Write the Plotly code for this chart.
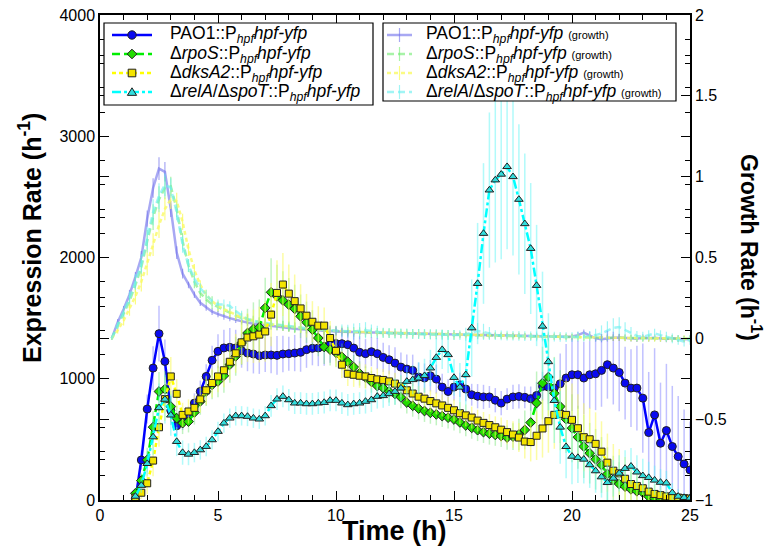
import plotly.graph_objects as go

FONT = "Liberation Sans, Arial, Helvetica, sans-serif"

# ---------------- data ----------------
STEP_H = 0.25          # sampling interval (h)
EXPR_START_H = 1.5     # first expression sample (h)
GROWTH_START_H = 0.5   # first growth sample (h)

strain_labels = [
    "PAO1::P<sub><i>hpf</i></sub><i>hpf-yfp</i>",
    "\u0394<i>rpoS</i>::P<sub><i>hpf</i></sub><i>hpf-yfp</i>",
    "\u0394<i>dksA2</i>::P<sub><i>hpf</i></sub><i>hpf-yfp</i>",
    "\u0394<i>relA</i>/\u0394<i>spoT</i>::P<sub><i>hpf</i></sub><i>hpf-yfp</i>",
]
growth_suffix = ' <span style="font-size:11px">(growth)</span>'

def nums(s):
    return [float(v) for v in s.split()]

# expression rate (h^-1), 1.5 h .. 25 h
expr_pao1 = nums("""
0 330 750 1088 1372 1143 738 612 647 702
799 895 1019 1152 1226 1254 1259 1254 1231 1212
1204 1190 1196 1196 1193 1204 1207 1212 1218 1240
1251 1254 1267 1281 1290 1289 1281 1253 1218 1207
1223 1207 1176 1157 1129 1096 1080 1069 1014 1006
1025 997 931 895 931 950 915 868 856 850
850 823 799 832 850 854 847 836 862 937
931 923 959 1006 1033 1033 1006 1033 1041 1069
1116 1088 1052 964 923 923 840 556 702 468
573 441 358 297 248
""")
expr_rpos = nums("""
55 160 331 601 895 914 771 675 634 647
722 813 895 950 978 1025 1116 1185 1295 1377
1410 1424 1584 1713 1680 1646 1611 1576 1515 1466
1405 1336 1262 1240 1215 1180 1140 1096 1044 1012
975 940 923 895 875 847 804 777 754 734
719 706 692 679 664 640 615 595 576 560
547 537 528 515 523 540 578 639 800 964
1014 880 771 667 592 518 441 386 336 289
215 165 132 110 88 72 61 28 14 10
8 6 5 5 5
""")
expr_dksa2 = nums("""
20 60 138 325 600 832 1019 876 702 730
760 830 905 965 1019 1070 1140 1210 1300 1340
1350 1364 1390 1529 1708 1777 1702 1640 1580 1520
1470 1438 1438 1336 1230 1116 1041 1033 1025 1019
1006 995 990 978 960 937 905 878 852 836
816 797 780 760 740 716 698 680 655 636
618 600 580 560 540 515 482 478 530 590
650 702 710 702 661 592 518 501 463 399
308 242 220 175 132 116 97 69 50 40
30 25 20 15 12
""")
expr_rela = nums("""
30 120 300 520 760 830 700 482 391 377
391 413 441 496 565 634 675 694 694 689
675 667 694 777 832 854 826 799 799 793
793 799 804 821 821 799 785 793 799 813
826 854 860 876 895 923 978 992 1005 1025
1088 1175 1240 1198 1010 930 1033 1419 1785 2198
2556 2639 2686 2749 2666 2479 2278 2074 1769 1433
1140 820 600 440 360 350 336 290 240 190
143 179 220 260 278 230 200 185 163 145
140 60 30 20 15
""")

# expression error bars (half length)
err_pao1 = nums("""
40 80 120 180 230 180 120 80 70 70
80 90 100 120 140 150 160 150 140 150
160 150 140 150 160 150 140 150 160 150
140 150 160 150 140 130 120 120 130 120
120 130 120 120 130 120 120 130 120 120
130 120 110 100 110 100 100 90 100 100
90 100 100 90 100 100 90 100 110 120
140 200 250 280 300 280 300 280 300 300
280 300 320 300 320 350 450 500 550 500
550 500 500 450 400
""")
err_rpos = nums("""
40 60 100 130 160 150 130 100 90 90
100 110 120 120 130 140 150 160 180 200
220 230 250 280 260 240 220 200 180 170
160 150 140 130 120 110 100 100 100 90
90 90 90 90 90 90 90 90 90 90
90 90 90 90 90 90 90 90 90 90
90 90 90 100 110 130 160 200 260 300
320 300 300 280 280 260 260 250 250 230
220 200 180 160 140 120 100 80 60 50
40 30 20 15 10
""")
err_dksa2 = nums("""
30 50 90 130 160 180 160 120 100 100
100 110 120 120 130 140 150 160 180 200
220 230 250 260 270 260 240 220 200 180
170 160 150 140 130 110 100 100 100 100
90 90 90 90 90 90 90 90 90 90
90 90 90 90 90 90 90 90 90 90
90 90 100 100 110 120 140 160 200 240
260 280 300 300 300 280 280 260 260 250
240 220 200 180 160 140 120 100 80 60
50 40 30 20 15
""")
err_rela = nums("""
30 60 100 150 200 200 170 120 100 90
80 80 80 80 80 80 80 80 80 80
80 80 80 90 90 90 90 90 90 90
90 90 90 90 90 90 90 90 90 100
100 100 100 100 110 110 120 120 130 140
150 160 160 150 150 200 300 400 500 580
640 680 700 680 650 620 580 540 500 450
400 350 300 260 230 210 200 190 180 170
160 150 150 150 150 140 140 130 120 110
100 80 60 40 30
""")

# growth rate (h^-1), 0.5 h .. 25 h
growth_pao1 = nums("""
0.0 0.10 0.18 0.27 0.38 0.50 0.74
0.93 1.05 1.03 0.80 0.53 0.40 0.33 0.27
0.22 0.19 0.165 0.15 0.135 0.125 0.115 0.105
0.097 0.09 0.085 0.08 0.075 0.07 0.066 0.062 0.059 0.056 0.053 0.05 0.048 0.046 0.044 0.042
0.04 0.039 0.037 0.036 0.035 0.034 0.033 0.032 0.031 0.03 0.03 0.029 0.028 0.027 0.027 0.026 0.025 0.024 0.024 0.023
0.022 0.022 0.021 0.02 0.02 0.019 0.018 0.018 0.017 0.017 0.016 0.015 0.015 0.014 0.013 0.012 0.012 0.011 0.01 0.012
0.02 0.035 0.02 0.0 -0.005 0.0 0.003 0.005 0.003 0.0 -0.002 0.005 0.0 0.004 0.0 -0.004 0.0 -0.003 -0.005 -0.004
""")
growth_rpos = nums("""
0.0 0.08 0.15 0.23 0.33 0.44 0.60
0.75 0.86 0.93 0.94 0.80 0.60 0.45 0.35
0.28 0.24 0.21 0.195 0.175 0.155 0.14 0.125
0.115 0.105 0.098 0.09 0.085 0.08 0.075 0.07 0.066 0.062 0.058 0.055 0.052 0.05 0.047 0.045
0.043 0.041 0.04 0.038 0.037 0.035 0.034 0.033 0.032 0.031 0.03 0.029 0.028 0.027 0.026 0.025 0.024 0.023 0.022 0.021
0.02 0.02 0.019 0.018 0.018 0.017 0.016 0.016 0.015 0.014 0.014 0.013 0.012 0.012 0.011 0.01 0.01 0.009 0.008 0.008
0.007 0.006 0.006 0.005 0.004 0.004 0.003 0.003 0.002 0.002 0.001 0.001 0.0 0.0 0.0 -0.001 -0.001 -0.002 -0.002 -0.003
""")
growth_dksa2 = nums("""
0.0 0.05 0.11 0.18 0.26 0.35 0.46
0.58 0.70 0.80 0.86 0.85 0.72 0.55 0.42
0.33 0.27 0.23 0.20 0.18 0.16 0.145 0.13
0.12 0.11 0.1 0.093 0.087 0.082 0.077 0.072 0.068 0.064 0.06 0.057 0.054 0.051 0.049 0.047
0.045 0.043 0.041 0.04 0.038 0.037 0.035 0.034 0.033 0.032 0.031 0.03 0.029 0.028 0.027 0.026 0.025 0.024 0.023 0.022
0.021 0.02 0.02 0.019 0.018 0.018 0.017 0.016 0.016 0.015 0.014 0.014 0.013 0.012 0.012 0.011 0.01 0.01 0.009 0.008
0.008 0.007 0.006 0.006 0.005 0.004 0.004 0.003 0.003 0.002 0.002 0.001 0.001 0.0 0.0 0.0 -0.001 -0.001 -0.002 -0.002
""")
growth_rela = nums("""
0.0 0.08 0.16 0.25 0.35 0.46 0.62
0.78 0.88 0.95 0.93 0.78 0.58 0.45 0.37
0.31 0.27 0.23 0.21 0.21 0.20 0.17 0.14
0.12 0.11 0.1 0.095 0.09 0.085 0.08 0.075 0.07 0.066 0.062 0.058 0.055 0.052 0.05 0.048
0.046 0.044 0.042 0.045 0.05 0.045 0.038 0.035 0.033 0.031 0.03 0.029 0.028 0.027 0.026 0.025 0.024 0.023 0.022 0.021
0.02 0.025 0.035 0.045 0.04 0.03 0.02 0.018 0.017 0.016 0.015 0.014 0.013 0.012 0.011 0.01 0.01 0.009 0.008 0.008
0.01 0.01 0.015 0.02 0.03 0.045 0.065 0.07 0.05 0.03 0.015 0.01 0.02 0.03 0.02 0.01 0.0 -0.01 -0.02 -0.01
""")

growth_err_pao1 = nums("""
0.01 0.02 0.02 0.03 0.03 0.04 0.05
0.06 0.07 0.06 0.05 0.04 0.03 0.02 0.02
0.02 0.02 0.02 0.02 0.02 0.02 0.02 0.02
0.02 0.02 0.02 0.02 0.02 0.02 0.02 0.02 0.02 0.02 0.02 0.02 0.02 0.02 0.02 0.02
0.015 0.015 0.015 0.015 0.015 0.015 0.015 0.015 0.015 0.015 0.015 0.015 0.015 0.015 0.015 0.015 0.015 0.015 0.015 0.015
0.015 0.015 0.015 0.015 0.015 0.015 0.015 0.015 0.015 0.015 0.015 0.015 0.015 0.015 0.015 0.015 0.015 0.015 0.015 0.015
0.02 0.02 0.02 0.02 0.02 0.02 0.02 0.02 0.02 0.02 0.02 0.02 0.02 0.02 0.02 0.02 0.02 0.02 0.02 0.02
""")
growth_err_rpos = nums("""
0.01 0.02 0.03 0.04 0.05 0.06 0.07
0.08 0.08 0.07 0.06 0.05 0.05 0.04 0.04
0.03 0.03 0.03 0.03 0.03 0.03 0.03 0.03
0.03 0.03 0.03 0.03 0.03 0.03 0.03 0.03 0.03 0.03 0.03 0.03 0.03 0.03 0.03 0.03
0.03 0.03 0.03 0.03 0.03 0.03 0.03 0.03 0.03 0.03 0.03 0.03 0.03 0.03 0.03 0.03 0.03 0.03 0.03 0.03
0.02 0.02 0.02 0.02 0.02 0.02 0.02 0.02 0.02 0.02 0.02 0.02 0.02 0.02 0.02 0.02 0.02 0.02 0.02 0.02
0.02 0.02 0.02 0.02 0.02 0.02 0.02 0.02 0.02 0.02 0.02 0.02 0.02 0.02 0.02 0.02 0.02 0.02 0.02 0.02
""")
growth_err_dksa2 = nums("""
0.01 0.02 0.03 0.04 0.05 0.06 0.07
0.07 0.08 0.07 0.06 0.05 0.05 0.04 0.04
0.03 0.03 0.03 0.03 0.03 0.03 0.03 0.03
0.03 0.03 0.03 0.03 0.03 0.03 0.03 0.03 0.03 0.03 0.03 0.03 0.03 0.03 0.03 0.03
0.02 0.02 0.02 0.02 0.02 0.02 0.02 0.02 0.02 0.02 0.02 0.02 0.02 0.02 0.02 0.02 0.02 0.02 0.02 0.02
0.02 0.02 0.02 0.02 0.02 0.02 0.02 0.02 0.02 0.02 0.02 0.02 0.02 0.02 0.02 0.02 0.02 0.02 0.02 0.02
0.02 0.02 0.02 0.02 0.02 0.02 0.02 0.02 0.02 0.02 0.02 0.02 0.02 0.02 0.02 0.02 0.02 0.02 0.02 0.02
""")
growth_err_rela = nums("""
0.01 0.02 0.03 0.04 0.05 0.06 0.07
0.08 0.08 0.07 0.06 0.05 0.05 0.04 0.04
0.03 0.03 0.03 0.03 0.03 0.03 0.03 0.03
0.03 0.03 0.03 0.03 0.03 0.03 0.03 0.03 0.03 0.03 0.03 0.03 0.03 0.03 0.03 0.03
0.04 0.04 0.05 0.05 0.05 0.04 0.04 0.03 0.03 0.03 0.03 0.03 0.03 0.03 0.03 0.03 0.03 0.03 0.03 0.03
0.03 0.04 0.05 0.05 0.05 0.04 0.03 0.03 0.03 0.03 0.03 0.03 0.03 0.03 0.03 0.03 0.03 0.03 0.03 0.03
0.03 0.03 0.03 0.04 0.05 0.06 0.06 0.06 0.05 0.04 0.03 0.03 0.03 0.03 0.03 0.03 0.03 0.03 0.03 0.03
""")

# ---------------- styles ----------------
expr_values = [expr_pao1, expr_rpos, expr_dksa2, expr_rela]
expr_errors = [err_pao1, err_rpos, err_dksa2, err_rela]
growth_values = [growth_pao1, growth_rpos, growth_dksa2, growth_rela]
growth_errors = [growth_err_pao1, growth_err_rpos, growth_err_dksa2, growth_err_rela]

line_colors = ["#0000ff", "#00ee00", "#ffff00", "#00ffff"]
fill_colors = ["#0a0af0", "#22dd00", "#f4e400", "#33dddd"]
marker_symbols = ["circle", "diamond", "square", "triangle-up"]
marker_sizes = [8, 7.5, 7, 7.5]
line_dashes = ["solid", "8px,4px", "4px,3px", "dashdot"]
err_colors = ["rgba(100,100,255,0.4)", "rgba(100,225,100,0.4)",
              "rgba(250,250,90,0.55)", "rgba(100,245,245,0.5)"]
growth_colors = ["rgba(110,110,235,0.6)", "rgba(110,235,110,0.6)",
                 "rgba(250,250,100,0.8)", "rgba(110,240,240,0.65)"]
growth_dashes = ["solid", "7px,4px", "4px,3px", "7px,4px"]

# plot-area geometry (pixels inside the 772x556 page, which has an 8px body margin)
PAGE_OFFSET = 8
PLOT_L, PLOT_R, PLOT_T, PLOT_B = 100, 690, 15, 500
W, H = 772, 556


def hours(start, n):
    return [start + STEP_H * i for i in range(n)]


def px(X):
    return (X - PLOT_L) / (PLOT_R - PLOT_L)


def py(Y):
    return (PLOT_B - Y) / (PLOT_B - PLOT_T)


fig = go.Figure()

# growth curves (right axis, drawn underneath)
for i in range(4):
    g = growth_values[i]
    fig.add_trace(go.Scatter(
        x=hours(GROWTH_START_H, len(g)), y=g, yaxis="y", mode="lines",
        name=strain_labels[i] + growth_suffix, showlegend=False,
        line=dict(color=growth_colors[i], width=2.5, dash=growth_dashes[i]),
        error_y=dict(type="data", array=growth_errors[i], visible=True,
                     color=growth_colors[i], thickness=1.2, width=0),
    ))

# expression rates (left axis, on top)
for i in range(4):
    v = expr_values[i]
    fig.add_trace(go.Scatter(
        x=hours(EXPR_START_H, len(v)), y=v, yaxis="y2", mode="lines+markers",
        name=strain_labels[i], showlegend=False,
        line=dict(color=line_colors[i], width=2.5, dash=line_dashes[i]),
        marker=dict(symbol=marker_symbols[i], size=marker_sizes[i],
                    color=fill_colors[i], line=dict(color="#202020", width=1)),
        error_y=dict(type="data", array=expr_errors[i], visible=True,
                     color=err_colors[i], thickness=1.5, width=0),
    ))

# ---------------- legends (drawn as boxes, glyphs and text) ----------------
shapes = []
annotations = []


def box(x0, y0, x1, y1):
    shapes.append(dict(type="rect", xref="paper", yref="paper",
                       x0=px(x0), x1=px(x1), y0=py(y1), y1=py(y0),
                       fillcolor="white", line=dict(color="black", width=1.2),
                       layer="above"))


def seg(x0, y0, x1, y1, color, width, dash="solid"):
    shapes.append(dict(type="line", xref="paper", yref="paper",
                       x0=px(x0), x1=px(x1), y0=py(y0), y1=py(y1),
                       line=dict(color=color, width=width, dash=dash), layer="above"))


def glyph(symbol, cx, cy, r, fill):
    edge = dict(color="#202020", width=1)
    if symbol == "circle":
        shapes.append(dict(type="circle", xref="paper", yref="paper",
                           x0=px(cx - r), x1=px(cx + r), y0=py(cy + r), y1=py(cy - r),
                           fillcolor=fill, line=edge, layer="above"))
        return
    if symbol == "diamond":
        pts = [(cx, cy - r), (cx + r, cy), (cx, cy + r), (cx - r, cy)]
    elif symbol == "square":
        pts = [(cx - r, cy - r), (cx + r, cy - r), (cx + r, cy + r), (cx - r, cy + r)]
    else:
        pts = [(cx, cy - r), (cx + r * 1.1, cy + r * 0.8), (cx - r * 1.1, cy + r * 0.8)]
    path = "M" + " L".join(f"{px(a):.5f},{py(b):.5f}" for a, b in pts) + " Z"
    shapes.append(dict(type="path", xref="paper", yref="paper", path=path,
                       fillcolor=fill, line=edge, layer="above"))


def label(text, X, Y, size):
    annotations.append(dict(text=text, xref="paper", yref="paper", x=px(X), y=py(Y),
                            xanchor="left", yanchor="middle", showarrow=False,
                            font=dict(family=FONT, size=size, color="black")))


LEG_ROWS = [35, 54, 73, 92]
glyph_r = [4.2, 4.8, 3.8, 4.2]

box(104, 23, 373, 105)
for i, yy in enumerate(LEG_ROWS):
    seg(112, yy, 152, yy, line_colors[i], 2.5, line_dashes[i])
    glyph(marker_symbols[i], 132, yy, glyph_r[i], fill_colors[i])
    label(strain_labels[i], 168, yy, 17.5)

box(383, 23, 676, 101)
for i, yy in enumerate(LEG_ROWS):
    seg(387, yy, 412, yy, growth_colors[i], 2.5, growth_dashes[i])
    seg(399.5, yy - 7, 399.5, yy + 7, growth_colors[i], 1.2)
    label(strain_labels[i] + growth_suffix, 424, yy, 17.5)

# axis titles
annotations += [
    dict(text="<b>Time (h)</b>", xref="paper", yref="paper",
         x=px(394), y=py(531), xanchor="center", yanchor="middle",
         showarrow=False, font=dict(family=FONT, size=27, color="black")),
    dict(text="<b>Expression Rate (h<sup>-1</sup>)</b>", xref="paper", yref="paper",
         x=px(30), y=py(238), xanchor="center", yanchor="middle", textangle=-90,
         showarrow=False, font=dict(family=FONT, size=25, color="black")),
    dict(text="<b>Growth Rate (h<sup>-1</sup>)</b>", xref="paper", yref="paper",
         x=px(751), y=py(247), xanchor="center", yanchor="middle", textangle=90,
         showarrow=False, font=dict(family=FONT, size=23, color="black")),
]

axis_common = dict(
    showline=True, linecolor="black", linewidth=1.5, mirror="ticks",
    ticks="inside", ticklen=9, tickwidth=1.2, tickcolor="black",
    showgrid=False, zeroline=False, automargin=False,
    ticklabeloverflow="allow",
    tickfont=dict(family=FONT, size=16, color="black"),
)

fig.update_layout(
    width=W, height=H,
    margin=dict(l=PLOT_L - PAGE_OFFSET, r=W - PLOT_R + PAGE_OFFSET,
                t=PLOT_T - PAGE_OFFSET, b=H - PLOT_B + PAGE_OFFSET, autoexpand=False),
    paper_bgcolor="white", plot_bgcolor="white",
    font=dict(family=FONT, color="black"),
    showlegend=False,
    xaxis=dict(range=[0, 25], tick0=0, dtick=5,
               minor=dict(dtick=1, ticklen=5, ticks="inside", tickcolor="black"),
               **axis_common),
    yaxis=dict(range=[-1, 2], side="right", tick0=0, dtick=0.5,
               minor=dict(dtick=0.25, ticklen=5, ticks="inside", tickcolor="black"),
               **axis_common),
    yaxis2=dict(range=[0, 4000], side="left", overlaying="y", tick0=0, dtick=1000,
                minor=dict(dtick=200, ticklen=5, ticks="inside", tickcolor="black"),
                **axis_common),
    shapes=shapes,
    annotations=annotations,
)

fig.write_html("out.html")
